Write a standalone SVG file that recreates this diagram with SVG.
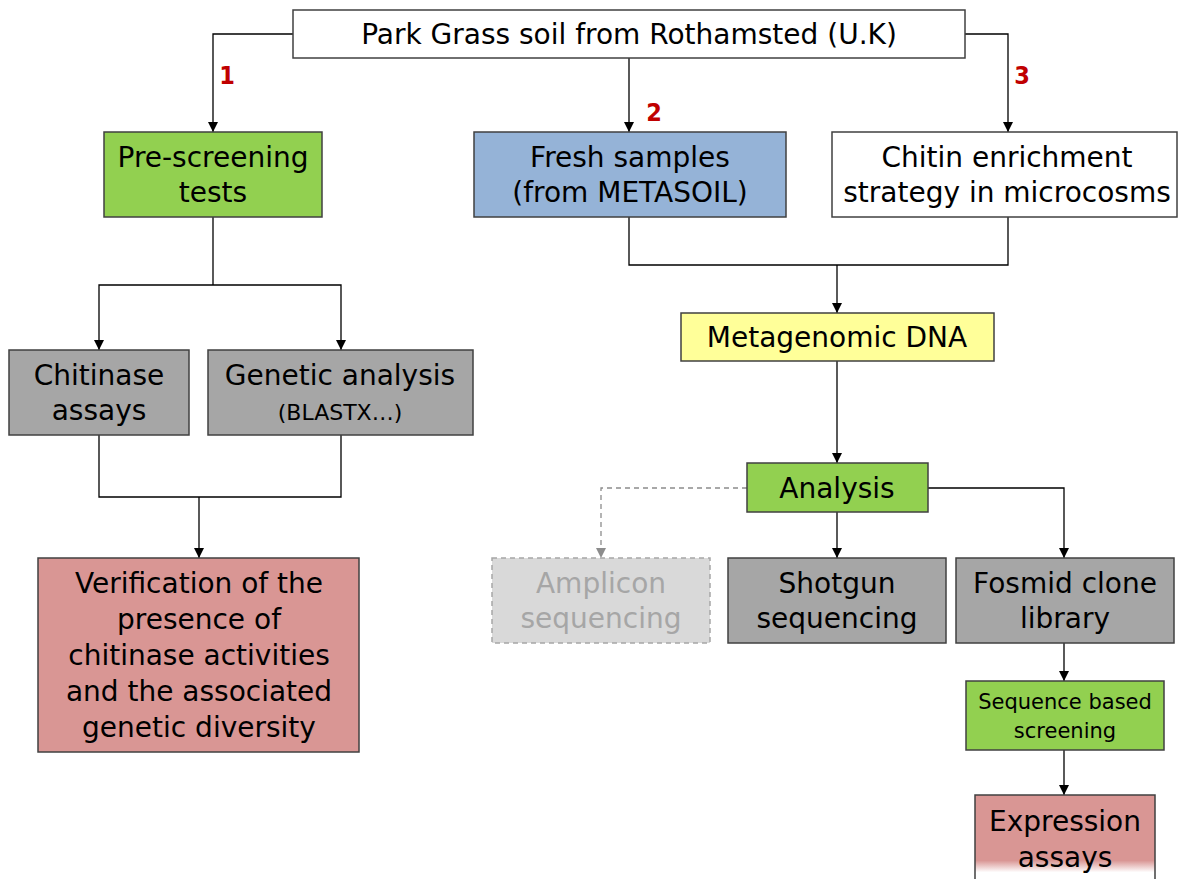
<svg xmlns="http://www.w3.org/2000/svg" width="1178" height="879" viewBox="0 0 1178 879">
  <defs>
    <style>
      .box { stroke: #404040; stroke-width: 1.5; }
      .t { font-family: "Comic Sans MS", "DejaVu Sans", sans-serif; font-size: 28px; fill: #000; text-anchor: middle; }
      .small { font-size: 21px; }
      .paren { font-size: 22px; }
      .num { font-family: "DejaVu Sans Condensed", "DejaVu Sans", sans-serif; font-weight: bold; font-size: 25px; fill: #C00000; text-anchor: middle; }
      .conn { fill: none; stroke: #000; stroke-width: 1.3; }
      .dash { fill: none; stroke: #8C8C8C; stroke-width: 1.3; stroke-dasharray: 5 4; }
    </style>
    <marker id="arrow" viewBox="0 0 10 10" refX="10" refY="5" markerWidth="10" markerHeight="10" markerUnits="userSpaceOnUse" orient="auto">
      <path d="M0,0 L10,5 L0,10 z" fill="#000"/>
    </marker>
    <marker id="arrowGray" viewBox="0 0 10 10" refX="10" refY="5" markerWidth="10" markerHeight="10" markerUnits="userSpaceOnUse" orient="auto">
      <path d="M0,0 L10,5 L0,10 z" fill="#8C8C8C"/>
    </marker>
    <linearGradient id="fadePink" x1="0" y1="0" x2="0" y2="1">
      <stop offset="0" stop-color="#D99694"/>
      <stop offset="0.78" stop-color="#D99694"/>
      <stop offset="0.92" stop-color="#FFFFFF"/>
      <stop offset="1" stop-color="#FFFFFF"/>
    </linearGradient>
  </defs>

  <rect width="1178" height="879" fill="#FFFFFF"/>

  <!-- connectors -->
  <g id="connectors">
    <path class="conn" d="M293,34 H213 V132" marker-end="url(#arrow)"/>
    <path class="conn" d="M629,58 V132" marker-end="url(#arrow)"/>
    <path class="conn" d="M965,34 H1008 V132" marker-end="url(#arrow)"/>
    <path class="conn" d="M213,217 V285"/>
    <path class="conn" d="M213,285 H99 V350" marker-end="url(#arrow)"/>
    <path class="conn" d="M213,285 H341 V350" marker-end="url(#arrow)"/>
    <path class="conn" d="M99,435 V497 H341 V435"/>
    <path class="conn" d="M199,497 V558" marker-end="url(#arrow)"/>
    <path class="conn" d="M629,217 V265 H1008 V217"/>
    <path class="conn" d="M837,265 V313" marker-end="url(#arrow)"/>
    <path class="conn" d="M837,361 V463" marker-end="url(#arrow)"/>
    <path class="dash" d="M747,488 H601 V558" marker-end="url(#arrowGray)"/>
    <path class="conn" d="M837,512 V558" marker-end="url(#arrow)"/>
    <path class="conn" d="M928,488 H1064 V558" marker-end="url(#arrow)"/>
    <path class="conn" d="M1064,643 V681" marker-end="url(#arrow)"/>
    <path class="conn" d="M1064,750 V795" marker-end="url(#arrow)"/>
    <text class="num" x="227" y="84">1</text>
    <text class="num" x="654" y="121">2</text>
    <text class="num" x="1022" y="84">3</text>
  </g>

  <g id="source">
    <rect class="box" x="293" y="10" width="672" height="48" fill="#FFFFFF"/>
    <text class="t" x="629" y="44">Park Grass soil from Rothamsted (U.K)</text>
  </g>

  <g id="prescreening">
    <rect class="box" x="104" y="132" width="218" height="85" fill="#92D050"/>
    <text class="t" x="213" y="167">Pre-screening</text>
    <text class="t" x="213" y="202">tests</text>
  </g>

  <g id="fresh">
    <rect class="box" x="474" y="132" width="312" height="85" fill="#95B3D7"/>
    <text class="t" x="630" y="167">Fresh samples</text>
    <text class="t" x="630" y="202">(from METASOIL)</text>
  </g>

  <g id="chitin">
    <rect class="box" x="832" y="132" width="345" height="85" fill="#FFFFFF"/>
    <text class="t" x="1007" y="167">Chitin enrichment</text>
    <text class="t" x="1007" y="202">strategy in microcosms</text>
  </g>

  <g id="chitinase">
    <rect class="box" x="9" y="350" width="180" height="85" fill="#A6A6A6"/>
    <text class="t" x="99" y="385">Chitinase</text>
    <text class="t" x="99" y="420">assays</text>
  </g>

  <g id="genetic">
    <rect class="box" x="208" y="350" width="265" height="85" fill="#A6A6A6"/>
    <text class="t" x="340" y="385">Genetic analysis</text>
    <text class="t paren" x="340" y="420">(BLASTX…)</text>
  </g>

  <g id="verification">
    <rect class="box" x="38" y="558" width="321" height="194" fill="#D99694"/>
    <text class="t" x="199" y="593">Verification of the</text>
    <text class="t" x="199" y="629">presence of</text>
    <text class="t" x="199" y="665">chitinase activities</text>
    <text class="t" x="199" y="701">and the associated</text>
    <text class="t" x="199" y="737">genetic diversity</text>
  </g>

  <g id="metagenomic">
    <rect class="box" x="681" y="313" width="313" height="48" fill="#FFFF99"/>
    <text class="t" x="837" y="347">Metagenomic DNA</text>
  </g>

  <g id="analysis">
    <rect class="box" x="747" y="463" width="181" height="49" fill="#92D050"/>
    <text class="t" x="837" y="498">Analysis</text>
  </g>

  <g id="amplicon">
    <rect x="492" y="558" width="218" height="85" fill="#D9D9D9" stroke="#A6A6A6" stroke-width="1.5" stroke-dasharray="5 4"/>
    <text class="t" x="601" y="593" style="fill:#A6A6A6">Amplicon</text>
    <text class="t" x="601" y="628" style="fill:#A6A6A6">sequencing</text>
  </g>

  <g id="shotgun">
    <rect class="box" x="728" y="558" width="218" height="85" fill="#A6A6A6"/>
    <text class="t" x="837" y="593">Shotgun</text>
    <text class="t" x="837" y="628">sequencing</text>
  </g>

  <g id="fosmid">
    <rect class="box" x="956" y="558" width="218" height="85" fill="#A6A6A6"/>
    <text class="t" x="1065" y="593">Fosmid clone</text>
    <text class="t" x="1065" y="628">library</text>
  </g>

  <g id="sequence">
    <rect class="box" x="966" y="681" width="198" height="69" fill="#92D050"/>
    <text class="t small" x="1065" y="709">Sequence based</text>
    <text class="t small" x="1065" y="738">screening</text>
  </g>

  <g id="expression">
    <path d="M975,879 V795 H1155 V879" fill="url(#fadePink)" stroke="#404040" stroke-width="1.5"/>
    <text class="t" x="1065" y="831">Expression</text>
    <text class="t" x="1065" y="867">assays</text>
  </g>
</svg>
